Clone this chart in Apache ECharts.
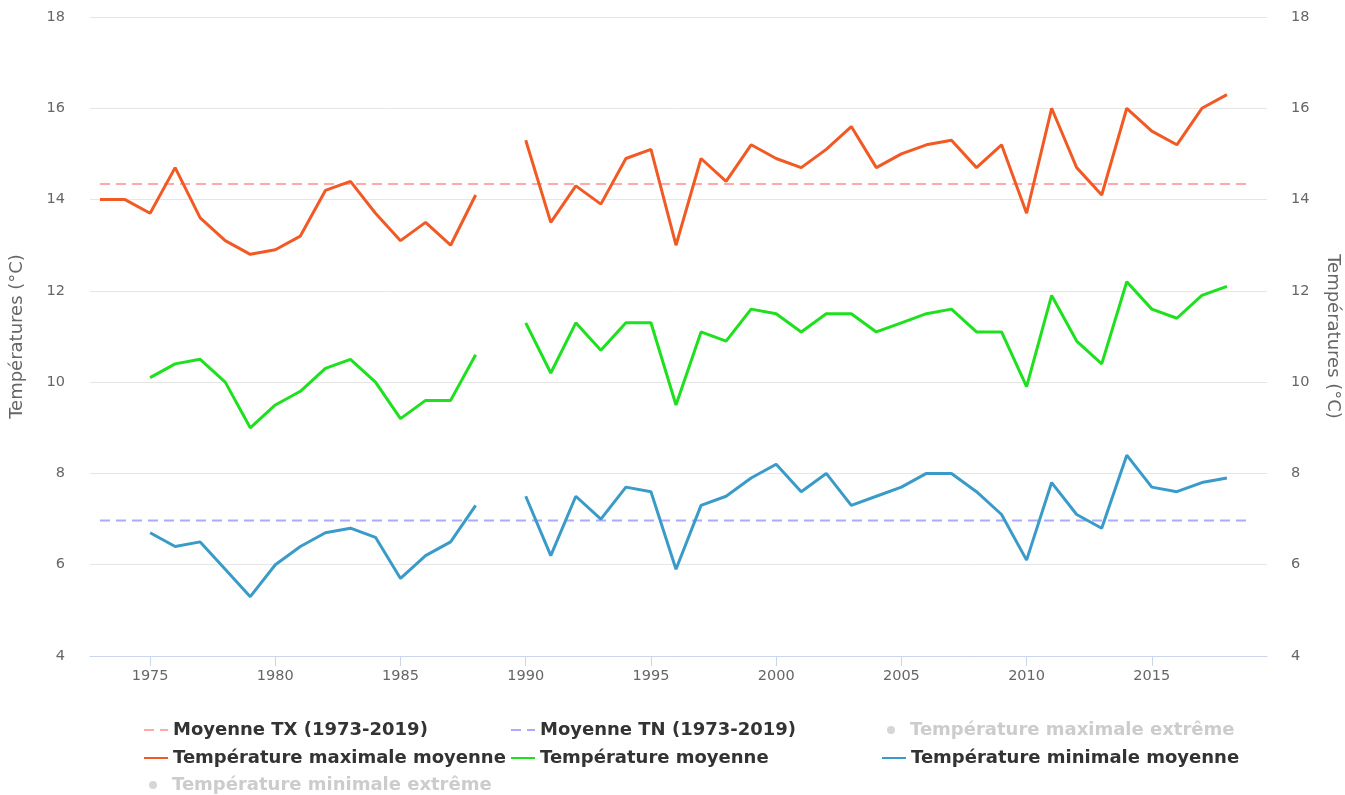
<!DOCTYPE html>
<html lang="fr">
<head>
    <meta charset="UTF-8">
    <title>Températures</title>
    <style>
        html, body { margin: 0; padding: 0; background: #fff; }
        #chartmain { width: 1345px; height: 795px; }
    </style>
</head>
<body>
    <div id="chartmain"></div>
    <script src="https://cdn.jsdelivr.net/npm/echarts@6/dist/echarts.min.js"></script>
    <script type="text/javascript">
        // années 1973 -> 2018 (1989 manquante)
        var years = [1973, 1974, 1975, 1976, 1977, 1978, 1979, 1980, 1981, 1982, 1983, 1984, 1985, 1986, 1987, 1988, 1989,
            1990, 1991, 1992, 1993, 1994, 1995, 1996, 1997, 1998, 1999, 2000, 2001, 2002, 2003, 2004, 2005, 2006, 2007,
            2008, 2009, 2010, 2011, 2012, 2013, 2014, 2015, 2016, 2017, 2018];
        var txMoy = [14.0, 14.0, 13.7, 14.7, 13.6, 13.1, 12.8, 12.9, 13.2, 14.2, 14.4, 13.7, 13.1, 13.5, 13.0, 14.1, null,
            15.3, 13.5, 14.3, 13.9, 14.9, 15.1, 13.0, 14.9, 14.4, 15.2, 14.9, 14.7, 15.1, 15.6, 14.7, 15.0, 15.2, 15.3,
            14.7, 15.2, 13.7, 16.0, 14.7, 14.1, 16.0, 15.5, 15.2, 16.0, 16.3];
        var tMoy = [null, null, 10.1, 10.4, 10.5, 10.0, 9.0, 9.5, 9.8, 10.3, 10.5, 10.0, 9.2, 9.6, 9.6, 10.6, null,
            11.3, 10.2, 11.3, 10.7, 11.3, 11.3, 9.5, 11.1, 10.9, 11.6, 11.5, 11.1, 11.5, 11.5, 11.1, 11.3, 11.5, 11.6,
            11.1, 11.1, 9.9, 11.9, 10.9, 10.4, 12.2, 11.6, 11.4, 11.9, 12.1];
        var tnMoy = [null, null, 6.7, 6.4, 6.5, 5.9, 5.3, 6.0, 6.4, 6.7, 6.8, 6.6, 5.7, 6.2, 6.5, 7.3, null,
            7.5, 6.2, 7.5, 7.0, 7.7, 7.6, 5.9, 7.3, 7.5, 7.9, 8.2, 7.6, 8.0, 7.3, 7.5, 7.7, 8.0, 8.0,
            7.6, 7.1, 6.1, 7.8, 7.1, 6.8, 8.4, 7.7, 7.6, 7.8, 7.9];
        var periode = [1973, 2019];
        var moyenneTX = 14.34;
        var moyenneTN = 6.97;
        var xTicks = [1975, 1980, 1985, 1990, 1995, 2000, 2005, 2010, 2015];

        var names = {
            tx: 'Moyenne TX (1973-2019)',
            tn: 'Moyenne TN (1973-2019)',
            maxExt: 'Température maximale extrême',
            maxMoy: 'Température maximale moyenne',
            moy: 'Température moyenne',
            minMoy: 'Température minimale moyenne',
            minExt: 'Température minimale extrême'
        };

        var pairs = function (vals) {
            return years.map(function (y, i) {
                return [y, vals[i] == null ? '-' : vals[i]];
            });
        };

        var mychart = echarts.init(document.getElementById('chartmain'));

        // une légende par élément, pour avoir les colonnes alignées
        var legendItem = function (name, left, top, dot) {
            return {
                data: [name],
                left: left,
                top: top,
                itemWidth: dot ? 28 : 24,
                itemHeight: dot ? 8 : 10,
                itemGap: 0,
                itemStyle: dot ? {} : { opacity: 0 },
                textStyle: {
                    fontFamily: 'DejaVu Sans',
                    fontSize: 18,
                    fontWeight: 'bold',
                    color: '#333'
                },
                inactiveColor: '#cccccc',
                selected: {
                    [names.maxExt]: false,
                    [names.minExt]: false
                }
            };
        };

        var axisY = function (pos, gap, rot) {
            return {
                type: 'value',
                position: pos,
                min: 4,
                max: 18,
                interval: 2,
                name: 'Températures (°C)',
                nameLocation: 'middle',
                nameGap: gap,
                nameRotate: rot,
                nameTextStyle: {
                    fontFamily: 'DejaVu Sans',
                    fontSize: 18,
                    color: '#666'
                },
                axisLine: { show: false },
                axisTick: { show: false },
                axisLabel: {
                    fontFamily: 'DejaVu Sans',
                    fontSize: 14.5,
                    color: '#666',
                    margin: pos == 'left' ? 25 : 24
                },
                splitLine: {
                    show: pos == 'left',
                    lineStyle: { color: '#e6e6e6' }
                }
            };
        };

        var option = {
            animation: false,
            grid: {
                left: 90,
                right: 78,
                top: 17,
                bottom: 139,
                outerBoundsMode: 'none'
            },
            legend: [
                legendItem(names.tx, 138, 716),
                legendItem(names.tn, 505, 716),
                legendItem(names.maxExt, 882, 716, true),
                legendItem(names.maxMoy, 138, 744),
                legendItem(names.moy, 505, 744),
                legendItem(names.minMoy, 876, 744),
                legendItem(names.minExt, 144, 771, true)
            ],
            xAxis: {
                type: 'value',
                min: 1972.6,
                max: 2019.6,
                axisLine: {
                    show: true,
                    lineStyle: { color: '#ccd6eb' }
                },
                axisTick: {
                    show: true,
                    length: 10,
                    customValues: xTicks,
                    lineStyle: { color: '#ccd6eb' }
                },
                axisLabel: {
                    customValues: xTicks,
                    formatter: function (v) { return String(v); },
                    fontFamily: 'DejaVu Sans',
                    fontSize: 14.5,
                    color: '#666',
                    margin: 13
                },
                splitLine: { show: false }
            },
            yAxis: [
                axisY('left', 64, 90),
                axisY('right', 57, -90)
            ],
            series: [{
                    name: names.tx,
                    type: 'line',
                    symbol: 'none',
                    color: '#ffaaaa',
                    lineStyle: { width: 2, type: [10, 6], color: '#ffaaaa' },
                    data: periode.map(function (y) { return [y, moyenneTX]; })
                },
                {
                    name: names.tn,
                    type: 'line',
                    symbol: 'none',
                    color: '#aaaaff',
                    lineStyle: { width: 2, type: [10, 6], color: '#aaaaff' },
                    data: periode.map(function (y) { return [y, moyenneTN]; })
                },
                {
                    name: names.maxExt,
                    type: 'scatter',
                    symbol: 'circle',
                    color: '#cccccc',
                    data: []
                },
                {
                    name: names.maxMoy,
                    type: 'line',
                    symbol: 'none',
                    color: '#f15a24',
                    lineStyle: { width: 3 },
                    data: pairs(txMoy)
                },
                {
                    name: names.moy,
                    type: 'line',
                    symbol: 'none',
                    color: '#1ee01e',
                    lineStyle: { width: 3 },
                    data: pairs(tMoy)
                },
                {
                    name: names.minMoy,
                    type: 'line',
                    symbol: 'none',
                    color: '#3a9bc8',
                    lineStyle: { width: 3 },
                    data: pairs(tnMoy)
                },
                {
                    name: names.minExt,
                    type: 'scatter',
                    symbol: 'circle',
                    color: '#cccccc',
                    data: []
                }
            ]
        };
        mychart.setOption(option, true);
    </script>
</body>
</html>
